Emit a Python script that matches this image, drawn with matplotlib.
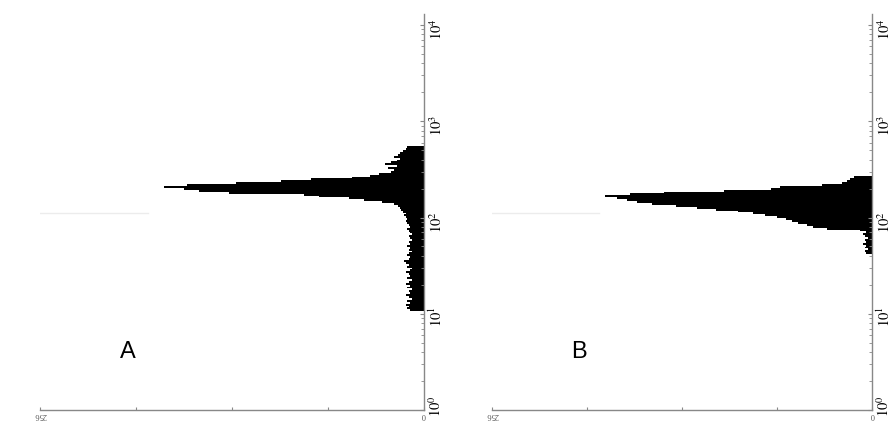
import matplotlib.pyplot as plt
import numpy as np

plt.rcParams['font.family'] = ['Liberation Serif', 'DejaVu Serif']
plt.rcParams['mathtext.fontset'] = 'stix'

# channel width in decades, histogram counts
step = 0.0197

a_start = 1.0265
a_counts = [9, 11, 10, 12, 9, 11, 8, 10, 12, 9,
            10, 8, 11, 9, 12, 10, 8, 11, 9, 10,
            12, 9, 8, 11, 10, 12, 13, 10, 9, 11,
            10, 8, 10, 9, 11, 9, 10, 8, 9, 10,
            8, 9, 10, 11, 9, 10, 11, 12, 11, 12,
            13, 12, 14, 15, 16, 17, 20, 28, 40, 50,
            70, 80, 130, 150, 160, 173, 158, 125, 95, 75,
            48, 36, 30, 22, 20, 24, 18, 26, 22, 18,
            16, 20, 17, 16, 14, 12, 11]

b_start = 1.619
b_counts = [4, 5, 3, 5, 4, 6, 4, 5, 3, 5,
            6, 4, 8, 30, 40, 44, 50, 54, 58, 64,
            72, 80, 90, 105, 118, 132, 148, 158, 165, 172,
            180, 163, 140, 100, 68, 62, 34, 20, 17, 15,
            12]

count_ticks = [0, 64, 128, 192, 256]
count_labels = ['0', '', '', '', '256']
decades = [1, 10, 100, 1000, 10000]
decade_labels = ['', r'$10^{1}$', r'$10^{2}$', r'$10^{3}$', r'$10^{4}$']
panel_names = ['A', 'B']

fig = plt.figure(figsize=(8.94, 4.21), dpi=100)
ax_a = fig.add_axes([0.0447, 0.0261, 0.4295, 0.9406])
ax_b = fig.add_axes([0.5503, 0.0261, 0.4251, 0.9406])

for ax, start, counts, name in [(ax_a, a_start, a_counts, panel_names[0]),
                                (ax_b, b_start, b_counts, panel_names[1])]:
    edges = 10 ** (start + step * np.arange(len(counts) + 1))
    ax.stairs(counts, edges, orientation='horizontal', fill=True,
              color='black', linewidth=0)
    # faint scan line seen on the left
    ax.plot([256, 184], [10 ** 2.05, 10 ** 2.05], color='#ececec', lw=1)

    ax.set_yscale('log')
    ax.set_ylim(1, 10 ** 4.114)
    ax.set_xlim(256, 0)
    ax.yaxis.tick_right()
    ax.set_yticks(decades)
    ax.set_yticklabels(decade_labels)
    ax.set_xticks(count_ticks)
    ax.set_xticklabels(count_labels)
    for lab in ax.get_xticklabels():
        lab.set_rotation(180)
    ax.tick_params(axis='y', which='major', direction='in', length=3,
                   color='#888888', labelsize=10.5, labelrotation=90, pad=3)
    ax.tick_params(axis='y', which='minor', direction='in', length=2,
                   color='#888888')
    ax.tick_params(axis='x', direction='in', length=2, color='#888888',
                   labelsize=6, pad=1, labelcolor='#555555')
    # bottom decade label sits right at the picture edge, nudge it up a bit
    ax.annotate(r'$10^{0}$', xy=(1.0, decades[0]),
                xycoords=('axes fraction', 'data'),
                xytext=(3, 4), textcoords='offset pixels',
                rotation=90, fontsize=10.5, ha='left', va='center')
    for side in ['left', 'top']:
        ax.spines[side].set_visible(False)
    for side in ['right', 'bottom']:
        ax.spines[side].set_color('#888888')
        ax.spines[side].set_linewidth(1.0)
    ax.text(0.23, 0.146, name, transform=ax.transAxes, fontsize=17,
            family='Liberation Sans', ha='center', va='center')

fig.savefig('out.png', dpi=100)
